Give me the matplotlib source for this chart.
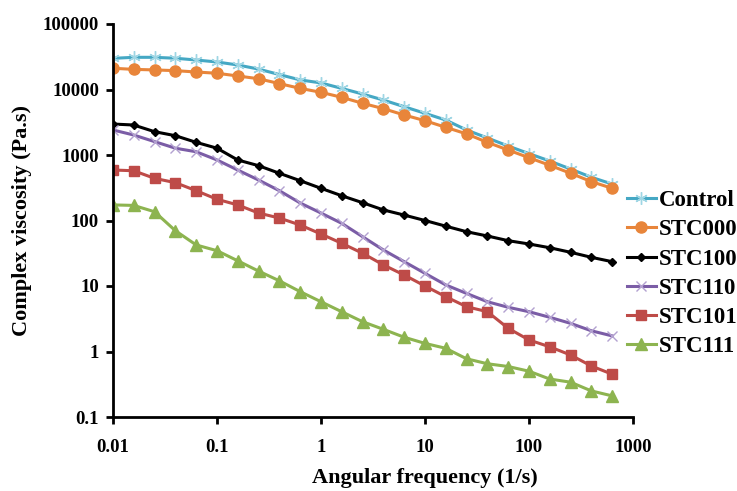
import numpy as np
import matplotlib.pyplot as plt

# angular frequency (1/s), 5 points per decade
freq = [0.01, 0.0158, 0.0251, 0.0398, 0.0631, 0.1, 0.158, 0.251, 0.398, 0.631,
        1, 1.58, 2.51, 3.98, 6.31, 10, 15.8, 25.1, 39.8, 63.1,
        100, 158, 251, 398, 631]

control = [29900, 31000, 31000, 30000, 28200, 26300, 23700, 20500, 16900, 14000,
           12600, 10400, 8530, 6900, 5460, 4330, 3420, 2410, 1820, 1370,
           1050, 810, 611, 457, 360]
stc000 = [21100, 20300, 19900, 19400, 18500, 17700, 16100, 14600, 12300, 10400,
          9060, 7600, 6160, 5100, 4080, 3340, 2650, 2100, 1560, 1190,
          910, 697, 526, 392, 310]
stc100 = [2970, 2870, 2270, 1970, 1560, 1270, 840, 687, 526, 405,
          310, 239, 187, 145, 121, 100, 82, 67.4, 58, 49.2,
          43.8, 38.4, 32.7, 27.4, 23.5]
stc110 = [2410, 2020, 1600, 1270, 1120, 840, 590, 415, 285, 185,
          130, 90.6, 56.6, 35.5, 23.5, 15.6, 10.4, 7.7, 5.75, 4.73,
          4.05, 3.33, 2.69, 2.07, 1.73]
stc101 = [590, 575, 440, 378, 285, 211, 173, 130, 109, 85.3,
          62.2, 44.9, 31.6, 21, 14.7, 10, 6.87, 4.83, 4.05, 2.26,
          1.5, 1.18, 0.885, 0.6, 0.45]
stc111 = [173, 170, 136, 69.8, 42.3, 34.6, 24.3, 16.9, 12, 8.2,
          5.75, 4.05, 2.85, 2.18, 1.65, 1.33, 1.12, 0.774, 0.65, 0.59,
          0.5, 0.38, 0.34, 0.25, 0.21]

plt.rcParams['font.family'] = ['Liberation Serif', 'DejaVu Serif']
plt.rcParams['font.weight'] = 'bold'

fig = plt.figure(figsize=(7.37, 4.91), dpi=100)
ax = fig.add_axes([113/737, 1 - 417/491, 520/737, 393/491])

lw = 2.2
ax.plot(freq, control, color='#45A8C4', lw=lw, marker=(6, 2, 0), ms=9,
        mec='#9FD6E4', mew=1.0, label='Control')
ax.plot(freq, stc000, color='#E8853A', lw=lw, marker='o', ms=8,
        mec='#E8853A', label='STC000')
ax.plot(freq, stc100, color='black', lw=lw, marker='D', ms=4.5,
        label='STC100')
ax.plot(freq, stc110, color='#7B5DA6', lw=lw, marker='x', ms=7,
        mec='#B3A1D0', mew=1.0, label='STC110')
ax.plot(freq, stc101, color='#BE4B48', lw=lw, marker='s', ms=7.5,
        label='STC101')
ax.plot(freq, stc111, color='#8DB450', lw=lw, marker='^', ms=8,
        label='STC111')

ax.set_xscale('log')
ax.set_yscale('log')
ax.set_xlim(0.01, 1000)
ax.set_ylim(0.1, 100000)

xt = [0.01, 0.1, 1, 10, 100, 1000]
yt = [0.1, 1, 10, 100, 1000, 10000, 100000]
ax.set_xticks(xt)
ax.set_xticklabels(['0.01', '0.1', '1', '10', '100', '1000'])
ax.set_yticks(yt)
ax.set_yticklabels(['0.1', '1', '10', '100', '1000', '10000', '100000'])
ax.minorticks_off()

for s in ['top', 'right']:
    ax.spines[s].set_visible(False)
for s in ['left', 'bottom']:
    ax.spines[s].set_linewidth(2)
ax.tick_params(axis='x', length=5, width=2, labelsize=13.5, pad=11)
ax.tick_params(axis='y', length=5, width=2, labelsize=13.5, pad=5)

ax.set_xlabel('Angular frequency (1/s)', fontsize=16, fontweight='bold')
ax.set_ylabel('Complex viscosity (Pa.s)', fontsize=16, fontweight='bold')
ax.xaxis.set_label_coords(0.60, -0.13)
ax.yaxis.set_label_coords(-0.155, 0.5)

fig.legend(loc='upper left', bbox_to_anchor=(627/737, 1 - 190/491),
           frameon=False, fontsize=16.5, handlelength=1.25, handletextpad=0.13,
           labelspacing=0.36, borderpad=0, borderaxespad=0)

fig.savefig('out.png', dpi=100)
